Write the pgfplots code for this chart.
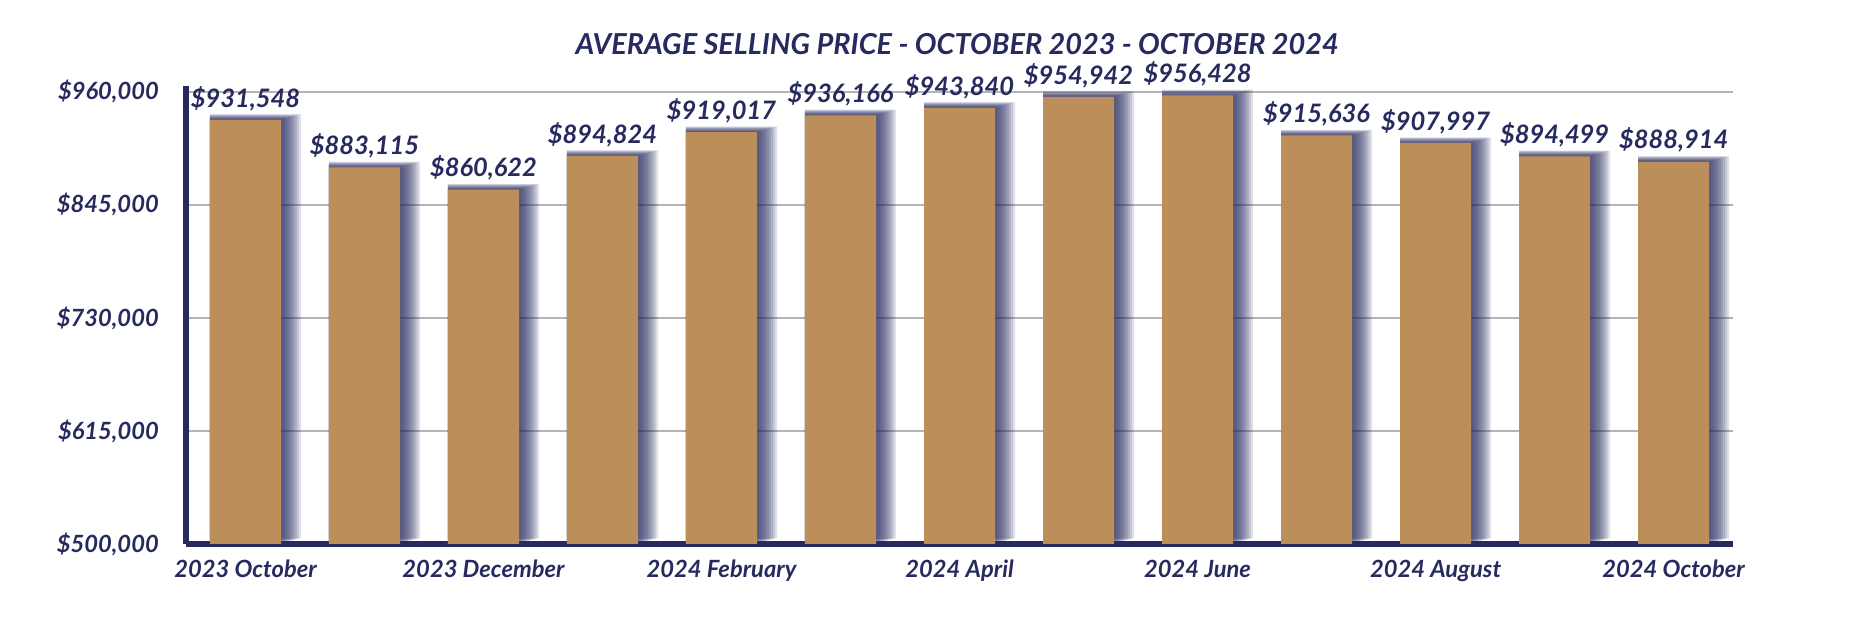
\documentclass[border=0pt]{standalone}
\usepackage{fontspec}
\setmainfont{Lato}
\usepackage{pgfplots}
\usepackage{pgfplotstable}
\pgfplotsset{compat=1.18}

\definecolor{navy}{HTML}{262A5E}
\definecolor{barbrown}{HTML}{BC8F5A}
\definecolor{gridgray}{HTML}{B5B5B5}

% average selling price per month
\pgfplotstableread{
x price label
0  931548 {\$931,548}
1  883115 {\$883,115}
2  860622 {\$860,622}
3  894824 {\$894,824}
4  919017 {\$919,017}
5  936166 {\$936,166}
6  943840 {\$943,840}
7  954942 {\$954,942}
8  956428 {\$956,428}
9  915636 {\$915,636}
10 907997 {\$907,997}
11 894499 {\$894,499}
12 888914 {\$888,914}
}\prices

\newcommand{\lbl}{\bfseries\itshape\fontsize{8.3}{10}\selectfont}
\newcommand{\vlbl}{\bfseries\itshape\fontsize{8.9}{11}\selectfont}

\begin{document}
\begin{tikzpicture}
\begin{axis}[
    scale only axis,
    width=541.5pt,
    height=160.3pt,
    xmin=-0.5, xmax=12.5,
    ymin=500000, ymax=966000,
    scaled y ticks=false,
    axis x line*=bottom,
    axis y line*=left,
    axis line style={navy, line width=1.8pt},
    ytick={500000,615000,730000,845000,960000},
    yticklabels={{\$500,000},{\$615,000},{\$730,000},{\$845,000},{\$960,000}},
    xtick={0,2,4,6,8,10,12},
    xticklabels={2023 October,2023 December,2024 February,2024 April,2024 June,2024 August,2024 October},
    major tick length=0pt,
    ymajorgrids,
    grid style={gridgray, line width=0.7pt},
    tick label style={font=\lbl, text=navy},
    yticklabel style={xshift=-6pt},
    xticklabel style={yshift=-2pt},
    ybar,
    bar width=24.9pt,
]
\coordinate (o) at (rel axis cs:0,0);

% soft shadow: stacked translucent layers behind the bars
\pgfplotsinvokeforeach{1,...,10}{
  \addplot[fill=navy, draw=none, fill opacity=0.14, bar shift=0pt,
           bar width={24.9pt+#1*0.7pt}, xshift={#1*0.35pt}, yshift={#1*0.2pt}]
    table[x=x, y=price] {\prices};
}

\addplot[fill=barbrown, draw=none, bar shift=0pt,
         nodes near coords, point meta=explicit symbolic,
         every node near coord/.append style={font=\vlbl, text=navy, inner sep=3pt}]
  table[x=x, y=price, meta=label] {\prices};
\end{axis}

\node[font=\bfseries\itshape\fontsize{10.1}{12}\selectfont, text=navy]
  at ([xshift=269.9pt, yshift=175.1pt]o) {AVERAGE SELLING PRICE - OCTOBER 2023 - OCTOBER 2024};

\pgfresetboundingbox
\path ([xshift=-65.1pt, yshift=-34.3pt]o) rectangle ([xshift=585.2pt, yshift=190.4pt]o);
\end{tikzpicture}
\end{document}
